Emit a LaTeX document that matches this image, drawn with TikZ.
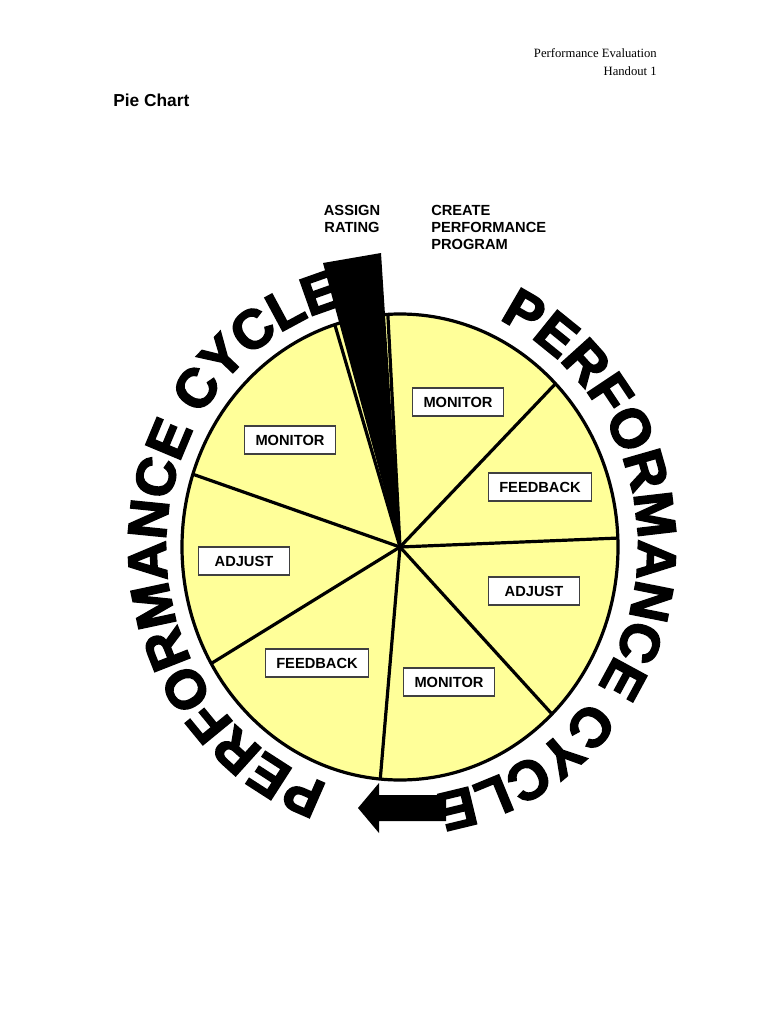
\documentclass[tikz,border=0pt]{standalone}
\usepackage{fontspec}
\setmainfont{Liberation Serif}
\setsansfont{Liberation Sans}
\newfontfamily\heavyfont{Liberation Sans}[BoldFeatures={FakeBold=3}]
\usetikzlibrary{decorations.text}
\definecolor{pieyellow}{HTML}{FFFF99}

\begin{document}
\begin{tikzpicture}[x=0.75pt, y=0.75pt,
        pie/.style={fill=pieyellow, draw=black, line width=2.4pt},
        spoke/.style={draw=black, line width=2.4pt},
        tag/.style={rectangle, draw=black!75, line width=0.9pt, fill=white, font=\sffamily\bfseries\fontsize{11}{13}\selectfont, minimum width=68pt, minimum height=21pt, inner xsep=7.9pt},
        heading/.style={font=\sffamily\bfseries\fontsize{11}{12.75}\selectfont, inner sep=0pt},
        bigword/.style={decorate, decoration={text along path, text align=center, text={|\heavyfont\bfseries\fontsize{41}{41}\selectfont|PERFORMANCE CYCLE}}}
    ]
        \useasboundingbox (0,0) rectangle (770,-1024);

        \node[anchor=base east, font=\fontsize{9.5}{12}\selectfont, inner sep=0pt] (hdr1) at (657,-58) {Performance Evaluation};
        \node[anchor=base east, font=\fontsize{9.5}{12}\selectfont, inner sep=0pt] (hdr2) at (657,-75) {Handout 1};
        \node[anchor=base west, font=\sffamily\bfseries\fontsize{13}{15}\selectfont, inner sep=0pt] (title) at (113,-107) {Pie Chart};

        \node[heading, anchor=north, align=center] (assign) at (352,-205) {ASSIGN\\RATING};
        \node[heading, anchor=north west, align=left] (create) at (431,-205) {CREATE\\PERFORMANCE\\PROGRAM};

        \coordinate (ctr) at (400,-547);
        \filldraw[pie] (ctr) ellipse [x radius=218, y radius=233];
        \foreach \a in {93.2,44.5,2.2,-45.8,264.8,210,161.8,107.4}
            \draw[spoke] (ctr) -- ++(\a:218 and 233);
        \fill[black] (ctr) -- (381,-253) -- (323,-263) -- cycle;

        \node[tag] (mon1) at (458,-402) {MONITOR};
        \node[tag] (feed1) at (540,-487) {FEEDBACK};
        \node[tag] (adj1) at (534,-591) {ADJUST};
        \node[tag] (mon2) at (449,-682) {MONITOR};
        \node[tag] (feed2) at (317,-663) {FEEDBACK};
        \node[tag] (adj2) at (244,-561) {ADJUST};
        \node[tag] (mon3) at (290,-440) {MONITOR};

        \path[bigword] (ctr) ++(268:234 and 249) arc[start angle=268, end angle=88, x radius=234, y radius=249];
        \path[bigword] (ctr) ++(82:238 and 250) arc[start angle=82, end angle=-98, x radius=238, y radius=250];

        \fill[black] (358,-808) -- (379,-783) -- (379,-795) -- (446,-795) -- (446,-821) -- (379,-821) -- (379,-833) -- cycle;
    \end{tikzpicture}
\end{document}
